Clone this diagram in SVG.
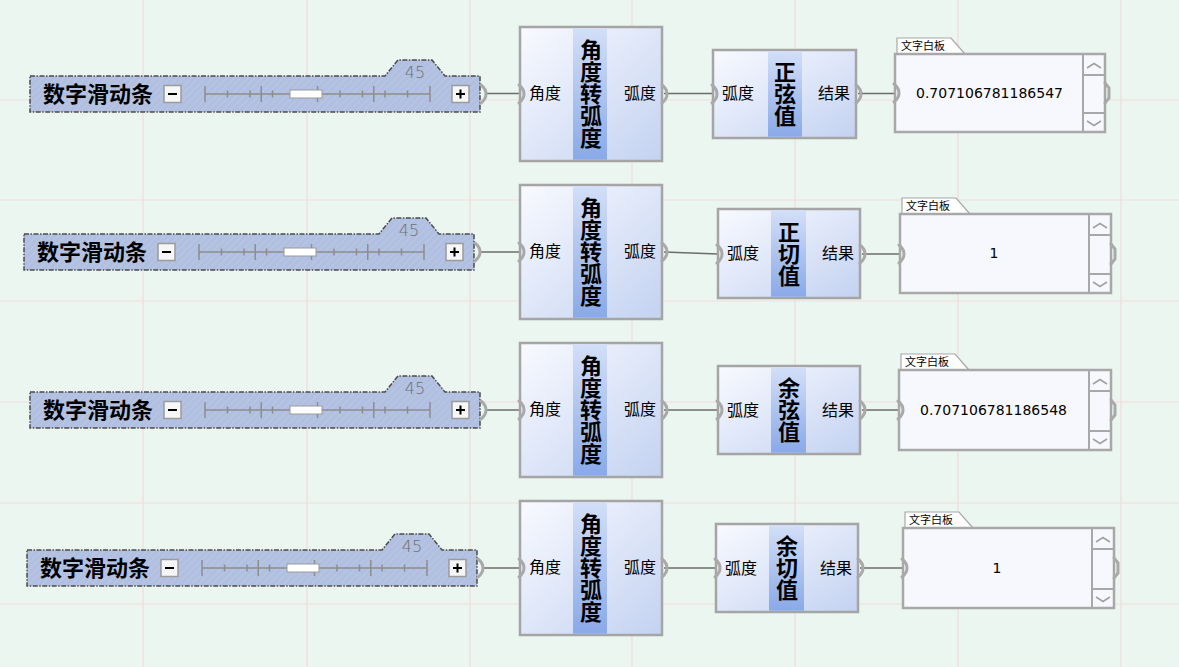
<svg xmlns="http://www.w3.org/2000/svg" width="1179" height="667" viewBox="0 0 1179 667">
<defs>
<pattern id="hatch" width="5" height="5" patternUnits="userSpaceOnUse" patternTransform="rotate(45)">
<rect width="5" height="5" fill="#b1bfe0"/>
<line x1="0" y1="0" x2="0" y2="5" stroke="#bdc9e6" stroke-width="1.5"/>
</pattern>
<linearGradient id="cg" x1="0" y1="0" x2="1" y2="1">
<stop offset="0" stop-color="#f9faff"/>
<stop offset="1" stop-color="#c3d2f1"/>
</linearGradient>
<linearGradient id="bg2" x1="0" y1="0" x2="0" y2="1">
<stop offset="0" stop-color="#d3dff8"/>
<stop offset="1" stop-color="#89a9e8"/>
</linearGradient>
<style>
.grid{stroke:#f1dcdc;stroke-width:1.2}
.slb{fill:url(#hatch);stroke:#4b4b4b;stroke-width:1.5;stroke-dasharray:5 1.5 1.5 1.5}
.sln{font-family:"Noto Sans CJK SC",sans-serif;font-weight:bold;font-size:22px;fill:#000}
.slv{font-family:"DejaVu Sans",sans-serif;font-weight:200;font-size:16px;fill:#6f6f6f;text-anchor:middle}
.trk{stroke:#8d8d8d;stroke-width:1.5}
.btn{fill:#f6f6f6;stroke:#9b9b9b;stroke-width:1.5}
.bl{stroke:#000;stroke-width:2}
.thumb{fill:#fff;stroke:#9a9a9a;stroke-width:1}
.comp{fill:url(#cg);stroke:#a5a5a5;stroke-width:2.5}
.bar{fill:url(#bg2)}
.lbl{font-family:"Noto Sans CJK SC",sans-serif;font-size:16px;fill:#000}
.ttl{font-family:"Noto Sans CJK SC",sans-serif;font-weight:bold;font-size:22px;fill:#000;text-anchor:middle;writing-mode:vertical-rl;text-orientation:upright}
.grip{fill:none;stroke:#a9a9a9;stroke-width:3;stroke-linecap:round}
.wire{fill:none;stroke:#6c6c6c;stroke-width:1.7}
.pnl{fill:#f7f8fd;stroke:#a8a8a8;stroke-width:2.5}
.tab{fill:#fff;stroke:#a8a8a8;stroke-width:1.2}
.tabt{font-family:"Noto Sans CJK SC",sans-serif;font-size:11px;fill:#000}
.sb{fill:none;stroke:#a8a8a8;stroke-width:2}
.chev{fill:none;stroke:#a0a0a0;stroke-width:1.5}
.ptx{font-family:"DejaVu Sans",sans-serif;font-size:14px;fill:#000}
</style>
</defs>
<rect width="1179" height="667" fill="#ebf6f1"/>
<g id="grid">
<line class="grid" x1="143" y1="0" x2="143" y2="667"/>
<line class="grid" x1="307" y1="0" x2="307" y2="667"/>
<line class="grid" x1="470" y1="0" x2="470" y2="667"/>
<line class="grid" x1="632" y1="0" x2="632" y2="667"/>
<line class="grid" x1="795" y1="0" x2="795" y2="667"/>
<line class="grid" x1="958" y1="0" x2="958" y2="667"/>
<line class="grid" x1="1121" y1="0" x2="1121" y2="667"/>
<line class="grid" x1="0" y1="100" x2="1179" y2="100"/>
<line class="grid" x1="0" y1="200" x2="1179" y2="200"/>
<line class="grid" x1="0" y1="301" x2="1179" y2="301"/>
<line class="grid" x1="0" y1="402" x2="1179" y2="402"/>
<line class="grid" x1="0" y1="503" x2="1179" y2="503"/>
<line class="grid" x1="0" y1="604" x2="1179" y2="604"/>
</g>

<g id="connectors">
<line class="wire" x1="486" y1="93.5" x2="520" y2="93.5"/>
<line class="wire" x1="664" y1="93.5" x2="713" y2="93.5"/>
<line class="wire" x1="858" y1="93.5" x2="895" y2="93.5"/>
<line class="wire" x1="480" y1="252" x2="520" y2="252"/>
<line class="wire" x1="664" y1="252" x2="718" y2="254"/>
<line class="wire" x1="862" y1="254" x2="900" y2="254"/>
<line class="wire" x1="486" y1="410" x2="520" y2="410"/>
<line class="wire" x1="664" y1="410" x2="718" y2="410"/>
<line class="wire" x1="862" y1="410" x2="899" y2="410"/>
<line class="wire" x1="483" y1="568" x2="520" y2="568"/>
<line class="wire" x1="664" y1="568" x2="716" y2="568"/>
<line class="wire" x1="860" y1="568" x2="903" y2="568"/>
</g>

<!-- Row 1 -->
<g id="slider1" transform="translate(30,76)">
<path class="slb" d="M0,0 H355 L368,-16 H402 L415,0 H450 V36 H0 Z"/>
<text class="slv" x="385" y="2">45</text>
<text class="sln" x="13" y="26">数字滑动条</text>
<rect class="btn" x="134" y="9.5" width="17" height="17"/>
<line class="bl" x1="138" y1="18" x2="147" y2="18"/>
<line class="trk" x1="175" y1="18" x2="400" y2="18"/>
<path class="trk" d="M175,10V26 M231.25,10V26 M287.5,10V26 M343.75,10V26 M400,10V26 M197.5,14.5V21.5 M220,14.5V21.5 M242.5,14.5V21.5 M265,14.5V21.5 M310,14.5V21.5 M332.5,14.5V21.5 M355,14.5V21.5 M377.5,14.5V21.5"/>
<rect class="thumb" x="260" y="14" width="32" height="8"/>
<rect class="btn" x="422" y="9.5" width="17" height="17"/>
<path class="bl" d="M426,18H435M430.5,13.5V22.5"/>
<path class="grip" d="M451,9 q5,4 5,9 q0,5 -5,9"/>
</g>
<g id="deg2rad1" transform="translate(520,27)">
<rect class="comp" x="0" y="0" width="142" height="134"/>
<rect class="bar" x="53" y="1.3" width="34" height="131.4"/>
<path class="grip" d="M-1,58 q5,4 5,9 q0,5 -5,9"/>
<path class="grip" d="M142,58 q5,4 5,9 q0,5 -5,9"/>
<text class="lbl" x="9" y="72">角度</text>
<text class="lbl" x="136" y="72" text-anchor="end">弧度</text>
<text class="ttl" x="71" y="67">角度转弧度</text>
</g>
<g id="sin1" transform="translate(713,50)">
<rect class="comp" x="0" y="0" width="143" height="88"/>
<rect class="bar" x="55" y="1.3" width="34" height="85.4"/>
<path class="grip" d="M-1,35 q5,4 5,9 q0,5 -5,9"/>
<path class="grip" d="M143,35 q5,4 5,9 q0,5 -5,9"/>
<text class="lbl" x="9" y="49">弧度</text>
<text class="lbl" x="137" y="49" text-anchor="end">结果</text>
<text class="ttl" x="72" y="44">正弦值</text>
</g>
<g id="panel1" transform="translate(895,54)">
<path class="tab" d="M2,0 V-16 H56 L70,0"/>
<text class="tabt" x="6" y="-4">文字白板</text>
<rect class="pnl" x="0" y="0" width="210" height="78"/>
<path class="sb" d="M188,1V77 M188,21H210 M188,59H210"/>
<path class="chev" d="M192,14 L199,9.5 L206,14 M192,67 L199,71.5 L206,67"/>
<path class="grip" d="M-1,30 q5,4 5,9 q0,5 -5,9"/>
<path class="grip" d="M210,29 l4,5 v10 l-4,5"/>
<text class="ptx" x="21" y="44">0.707106781186547</text>
</g>

<!-- Row 2 -->
<g id="slider2" transform="translate(24,234)">
<path class="slb" d="M0,0 H355 L368,-16 H402 L415,0 H450 V36 H0 Z"/>
<text class="slv" x="385" y="2">45</text>
<text class="sln" x="13" y="26">数字滑动条</text>
<rect class="btn" x="134" y="9.5" width="17" height="17"/>
<line class="bl" x1="138" y1="18" x2="147" y2="18"/>
<line class="trk" x1="175" y1="18" x2="400" y2="18"/>
<path class="trk" d="M175,10V26 M231.25,10V26 M287.5,10V26 M343.75,10V26 M400,10V26 M197.5,14.5V21.5 M220,14.5V21.5 M242.5,14.5V21.5 M265,14.5V21.5 M310,14.5V21.5 M332.5,14.5V21.5 M355,14.5V21.5 M377.5,14.5V21.5"/>
<rect class="thumb" x="260" y="14" width="32" height="8"/>
<rect class="btn" x="422" y="9.5" width="17" height="17"/>
<path class="bl" d="M426,18H435M430.5,13.5V22.5"/>
<path class="grip" d="M451,9 q5,4 5,9 q0,5 -5,9"/>
</g>
<g id="deg2rad2" transform="translate(520,185)">
<rect class="comp" x="0" y="0" width="142" height="134"/>
<rect class="bar" x="53" y="1.3" width="34" height="131.4"/>
<path class="grip" d="M-1,58 q5,4 5,9 q0,5 -5,9"/>
<path class="grip" d="M142,58 q5,4 5,9 q0,5 -5,9"/>
<text class="lbl" x="9" y="72">角度</text>
<text class="lbl" x="136" y="72" text-anchor="end">弧度</text>
<text class="ttl" x="71" y="67">角度转弧度</text>
</g>
<g id="tan2" transform="translate(718,209)">
<rect class="comp" x="0" y="0" width="142" height="89"/>
<rect class="bar" x="53" y="1.3" width="35" height="86.4"/>
<path class="grip" d="M-1,36 q5,4 5,9 q0,5 -5,9"/>
<path class="grip" d="M142,36 q5,4 5,9 q0,5 -5,9"/>
<text class="lbl" x="9" y="50">弧度</text>
<text class="lbl" x="136" y="50" text-anchor="end">结果</text>
<text class="ttl" x="71" y="45">正切值</text>
</g>
<g id="panel2" transform="translate(900,214)">
<path class="tab" d="M2,0 V-16 H56 L70,0"/>
<text class="tabt" x="6" y="-4">文字白板</text>
<rect class="pnl" x="0" y="0" width="211" height="79"/>
<path class="sb" d="M189,1V78 M189,21H211 M189,60H211"/>
<path class="chev" d="M193,14 L200,9.5 L207,14 M193,68 L200,72.5 L207,68"/>
<path class="grip" d="M-1,31 q5,4 5,9 q0,5 -5,9"/>
<path class="grip" d="M211,30 l4,5 v10 l-4,5"/>
<text class="ptx" x="94" y="44" text-anchor="middle">1</text>
</g>

<!-- Row 3 -->
<g id="slider3" transform="translate(30,392)">
<path class="slb" d="M0,0 H355 L368,-16 H402 L415,0 H450 V36 H0 Z"/>
<text class="slv" x="385" y="2">45</text>
<text class="sln" x="13" y="26">数字滑动条</text>
<rect class="btn" x="134" y="9.5" width="17" height="17"/>
<line class="bl" x1="138" y1="18" x2="147" y2="18"/>
<line class="trk" x1="175" y1="18" x2="400" y2="18"/>
<path class="trk" d="M175,10V26 M231.25,10V26 M287.5,10V26 M343.75,10V26 M400,10V26 M197.5,14.5V21.5 M220,14.5V21.5 M242.5,14.5V21.5 M265,14.5V21.5 M310,14.5V21.5 M332.5,14.5V21.5 M355,14.5V21.5 M377.5,14.5V21.5"/>
<rect class="thumb" x="260" y="14" width="32" height="8"/>
<rect class="btn" x="422" y="9.5" width="17" height="17"/>
<path class="bl" d="M426,18H435M430.5,13.5V22.5"/>
<path class="grip" d="M451,9 q5,4 5,9 q0,5 -5,9"/>
</g>
<g id="deg2rad3" transform="translate(520,343)">
<rect class="comp" x="0" y="0" width="142" height="134"/>
<rect class="bar" x="53" y="1.3" width="34" height="131.4"/>
<path class="grip" d="M-1,58 q5,4 5,9 q0,5 -5,9"/>
<path class="grip" d="M142,58 q5,4 5,9 q0,5 -5,9"/>
<text class="lbl" x="9" y="72">角度</text>
<text class="lbl" x="136" y="72" text-anchor="end">弧度</text>
<text class="ttl" x="71" y="67">角度转弧度</text>
</g>
<g id="cos3" transform="translate(718,366)">
<rect class="comp" x="0" y="0" width="142" height="88"/>
<rect class="bar" x="53" y="1.3" width="35" height="85.4"/>
<path class="grip" d="M-1,35 q5,4 5,9 q0,5 -5,9"/>
<path class="grip" d="M142,35 q5,4 5,9 q0,5 -5,9"/>
<text class="lbl" x="9" y="50">弧度</text>
<text class="lbl" x="136" y="50" text-anchor="end">结果</text>
<text class="ttl" x="71" y="44">余弦值</text>
</g>
<g id="panel3" transform="translate(899,370)">
<path class="tab" d="M2,0 V-16 H56 L70,0"/>
<text class="tabt" x="6" y="-4">文字白板</text>
<rect class="pnl" x="0" y="0" width="212" height="80"/>
<path class="sb" d="M190,1V79 M190,21H212 M190,61H212"/>
<path class="chev" d="M194,14 L201,9.5 L208,14 M194,69 L201,73.5 L208,69"/>
<path class="grip" d="M-1,31 q5,4 5,9 q0,5 -5,9"/>
<path class="grip" d="M212,30 l4,5 v10 l-4,5"/>
<text class="ptx" x="21" y="45">0.707106781186548</text>
</g>

<!-- Row 4 -->
<g id="slider4" transform="translate(27,550)">
<path class="slb" d="M0,0 H355 L368,-16 H402 L415,0 H450 V36 H0 Z"/>
<text class="slv" x="385" y="2">45</text>
<text class="sln" x="13" y="26">数字滑动条</text>
<rect class="btn" x="134" y="9.5" width="17" height="17"/>
<line class="bl" x1="138" y1="18" x2="147" y2="18"/>
<line class="trk" x1="175" y1="18" x2="400" y2="18"/>
<path class="trk" d="M175,10V26 M231.25,10V26 M287.5,10V26 M343.75,10V26 M400,10V26 M197.5,14.5V21.5 M220,14.5V21.5 M242.5,14.5V21.5 M265,14.5V21.5 M310,14.5V21.5 M332.5,14.5V21.5 M355,14.5V21.5 M377.5,14.5V21.5"/>
<rect class="thumb" x="260" y="14" width="32" height="8"/>
<rect class="btn" x="422" y="9.5" width="17" height="17"/>
<path class="bl" d="M426,18H435M430.5,13.5V22.5"/>
<path class="grip" d="M451,9 q5,4 5,9 q0,5 -5,9"/>
</g>
<g id="deg2rad4" transform="translate(520,501)">
<rect class="comp" x="0" y="0" width="142" height="134"/>
<rect class="bar" x="53" y="1.3" width="34" height="131.4"/>
<path class="grip" d="M-1,58 q5,4 5,9 q0,5 -5,9"/>
<path class="grip" d="M142,58 q5,4 5,9 q0,5 -5,9"/>
<text class="lbl" x="9" y="72">角度</text>
<text class="lbl" x="136" y="72" text-anchor="end">弧度</text>
<text class="ttl" x="71" y="67">角度转弧度</text>
</g>
<g id="cot4" transform="translate(716,524)">
<rect class="comp" x="0" y="0" width="142" height="88"/>
<rect class="bar" x="53" y="1.3" width="35" height="85.4"/>
<path class="grip" d="M-1,35 q5,4 5,9 q0,5 -5,9"/>
<path class="grip" d="M142,35 q5,4 5,9 q0,5 -5,9"/>
<text class="lbl" x="9" y="50">弧度</text>
<text class="lbl" x="136" y="50" text-anchor="end">结果</text>
<text class="ttl" x="71" y="44">余切值</text>
</g>
<g id="panel4" transform="translate(903,528)">
<path class="tab" d="M2,0 V-16 H56 L70,0"/>
<text class="tabt" x="6" y="-4">文字白板</text>
<rect class="pnl" x="0" y="0" width="211" height="80"/>
<path class="sb" d="M189,1V79 M189,21H211 M189,61H211"/>
<path class="chev" d="M193,14 L200,9.5 L207,14 M193,69 L200,73.5 L207,69"/>
<path class="grip" d="M-1,31 q5,4 5,9 q0,5 -5,9"/>
<path class="grip" d="M211,30 l4,5 v10 l-4,5"/>
<text class="ptx" x="94" y="45" text-anchor="middle">1</text>
</g>
</svg>
